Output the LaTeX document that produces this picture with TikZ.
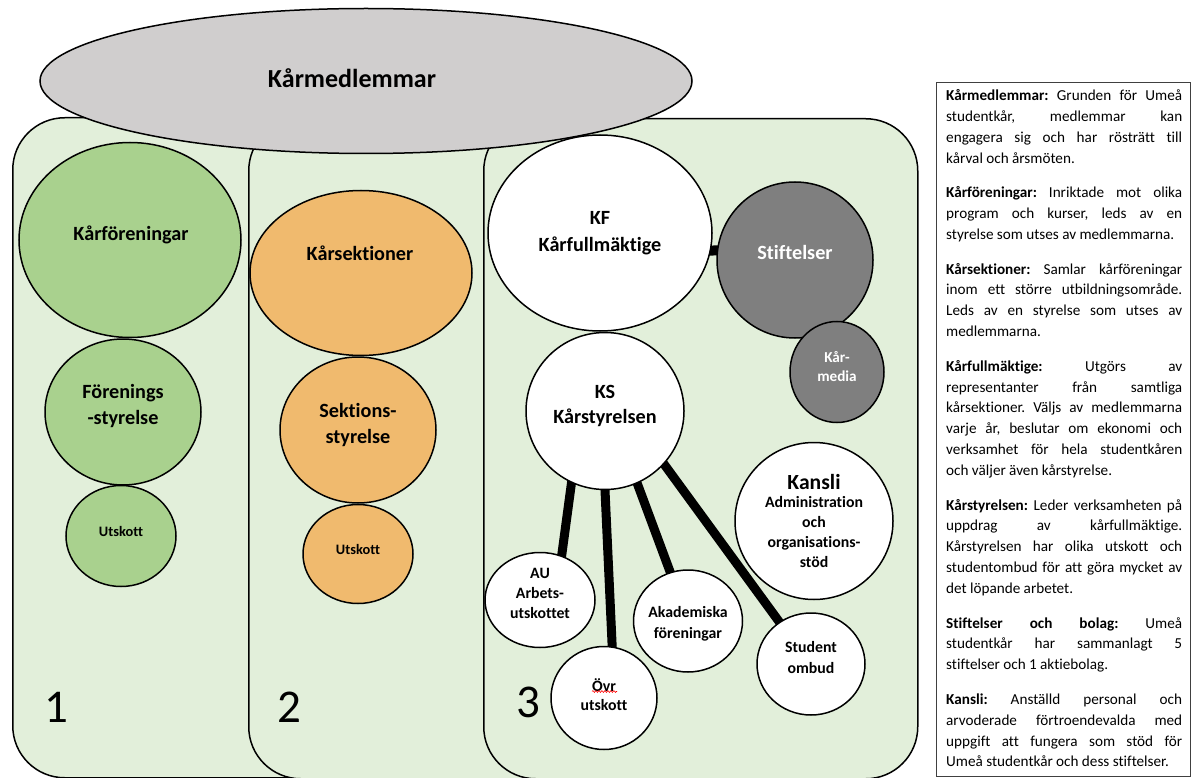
\documentclass[tikz,border=0pt]{standalone}
\usepackage{fontspec}
\setmainfont{Carlito}[Ligatures=NoCommon]
\usetikzlibrary{shapes.geometric,decorations.pathmorphing}
\definecolor{panelfill}{HTML}{E2EFDA}
\definecolor{memgray}{HTML}{D0CECE}
\definecolor{kgreen}{HTML}{A9D18E}
\definecolor{korange}{HTML}{F0BA6E}
\definecolor{dgray}{HTML}{7F7F7F}
\definecolor{boxline}{HTML}{404040}
\pgfdeclarelayer{panels}
\pgfdeclarelayer{links}
\pgfsetlayers{panels,links,main}
\begin{document}
\begin{tikzpicture}[x=1pt,y=-1pt,
  panel/.style={rectangle, draw=black, line width=1.5pt, fill=panelfill, rounded corners=52pt, anchor=north west, minimum width=434pt, minimum height=660pt, inner sep=0pt},
  bub/.style={ellipse, draw=black, line width=1.5pt, inner sep=0pt},
  lbl/.style={align=center, inner sep=0pt, font=\fontsize{20.2}{26}\selectfont\bfseries},
  lbls/.style={align=center, inner sep=0pt, font=\fontsize{15.8}{20}\selectfont\bfseries},
  num/.style={inner sep=0pt, font=\fontsize{47}{50}\selectfont},
  link/.style={line width=9pt, black, shorten <=-6pt, shorten >=-6pt}]
\useasboundingbox (0,0) rectangle (1192,778);

\begin{pgfonlayer}{panels}
\fill[white] (0,0) rectangle (1192,778);
\node[panel] (p1) at (12,117) {};
\node[panel] (p2) at (248,118) {};
\node[panel] (p3) at (483,118) {};
\end{pgfonlayer}

\node[num] (n1) at (56,707) {1};
\node[num] (n2) at (289,707) {2};
\node[num] (n3) at (528,702) {3};

% members ellipse
\node[bub, fill=memgray, minimum width=652pt, minimum height=145pt] (mem) at (366,81) {};
\node[inner sep=0pt, font=\fontsize{26}{30}\selectfont\bfseries] (memt) at (352,78) {Kårmedlemmar};

% column 1
\node[bub, fill=kgreen, minimum width=222pt, minimum height=195pt] (kforen) at (130,240) {};
\node[lbl] (kforent) at (131,235) {Kårföreningar};
\node[bub, fill=kgreen, minimum width=156pt, minimum height=146pt] (fstyr) at (123,412) {};
\node[lbl] (fstyrt) at (123,406) {Förenings\\-styrelse};
\node[bub, fill=kgreen, minimum width=110pt, minimum height=101pt] (u1) at (121,536) {};
\node[inner sep=0pt, font=\fontsize{14.4}{16}\selectfont\bfseries] (u1t) at (121,531) {Utskott};

% column 2
\node[bub, fill=korange, minimum width=222pt, minimum height=165pt] (ksek) at (361,273) {};
\node[lbl] (ksekt) at (360,253) {Kårsektioner};
\node[bub, fill=korange, minimum width=156pt, minimum height=146pt] (sstyr) at (358,430) {};
\node[lbl] (sstyrt) at (358,425) {Sektions-\\styrelse};
\node[bub, fill=korange, minimum width=110pt, minimum height=99pt] (u2) at (358,554) {};
\node[inner sep=0pt, font=\fontsize{14.4}{16}\selectfont\bfseries] (u2t) at (358,549) {Utskott};

% column 3
\node[bub, fill=white, minimum width=224pt, minimum height=196pt] (kf) at (600,233) {};
\node[lbl, font=\fontsize{20.2}{27}\selectfont\bfseries] (kft) at (600,233.5) {KF\\Kårfullmäktige};
\node[bub, fill=dgray, minimum width=156pt, minimum height=156pt] (st) at (795,260) {};
\node[lbl, text=white] (stt) at (795,252) {Stiftelser};
\node[bub, fill=dgray, minimum width=94pt, minimum height=101pt] (km) at (837,372) {};
\node[lbls, text=white, font=\fontsize{15.2}{19}\selectfont\bfseries] (kmt) at (837,367) {Kår-\\media};
\node[bub, fill=white, minimum width=158pt, minimum height=157pt] (ks) at (605,411) {};
\node[lbl, font=\fontsize{20.2}{25}\selectfont\bfseries] (kst) at (605,405.5) {KS\\Kårstyrelsen};
\node[bub, fill=white, minimum width=158pt, minimum height=157pt] (kan) at (814,521) {};
\node[inner sep=0pt, font=\fontsize{21.6}{22}\selectfont\bfseries] (kant) at (814,482) {Kansli};
\node[lbls] (kant2) at (814,532) {Administration\\och\\organisations-\\stöd};

\node[bub, fill=white, minimum width=110pt, minimum height=95pt] (au) at (540,600) {};
\node[lbls] (aut) at (540,593) {AU\\Arbets-\\utskottet};
\node[bub, fill=white, minimum width=106pt, minimum height=103pt] (ovr) at (604,698) {};
\node[lbls, font=\fontsize{15.8}{19}\selectfont\bfseries] (ovrt) at (604,694.5) {Övr\\utskott};
\draw[red, line width=0.6pt, decorate, decoration={snake, amplitude=0.9pt, segment length=3pt}] (592,691.5) -- (617,691.5);
\node[bub, fill=white, minimum width=109pt, minimum height=102pt] (ak) at (688,621) {};
\node[lbls, font=\fontsize{15.8}{21}\selectfont\bfseries] (akt) at (688,623.5) {Akademiska\\föreningar};
\node[bub, fill=white, minimum width=108pt, minimum height=102pt] (so) at (811,664) {};
\node[lbls, font=\fontsize{15.8}{21}\selectfont\bfseries] (sot) at (811,657.5) {Student\\ombud};

\begin{pgfonlayer}{links}
\draw[link, line width=10pt] (kf.-9) -- (st.173);
\draw[link] (ks.245) -- (au.64);
\draw[link] (ks.270) -- (ovr.81);
\draw[link] (ks.294) -- (ak.110);
\draw[link] (ks.318) -- (so.127);
\end{pgfonlayer}

% text box
\node[rectangle, draw=boxline, line width=1.2pt, anchor=north west, minimum width=254pt, minimum height=694pt, inner sep=0pt] (box) at (936,82) {};
\node[anchor=north west, inner sep=0pt] (boxt) at (946,89.5) {\begin{minipage}[t]{236pt}
\fontsize{15.2}{20.9}\selectfont
\setlength{\parskip}{13.5pt}\setlength{\parindent}{0pt}
\frenchspacing
\spaceskip=0.22em plus 0.5em minus 0.1em
\hyphenpenalty=10000 \exhyphenpenalty=10000
\textbf{Kårmedlemmar:} Grunden för Umeå\linebreak
studentkår, medlemmar kan\linebreak
engagera sig och har rösträtt till\linebreak
kårval och årsmöten.\par
\textbf{Kårföreningar:} Inriktade mot olika\linebreak
program och kurser, leds av en\linebreak
styrelse som utses av medlemmarna.\par
\textbf{Kårsektioner:} Samlar kårföreningar\linebreak
inom ett större utbildningsområde.\linebreak
Leds av en styrelse som utses av\linebreak
medlemmarna.\par
\textbf{Kårfullmäktige:} Utgörs av\linebreak
representanter från samtliga\linebreak
kårsektioner. Väljs av medlemmarna\linebreak
varje år, beslutar om ekonomi och\linebreak
verksamhet för hela studentkåren\linebreak
och väljer även kårstyrelse.\par
\textbf{Kårstyrelsen:} Leder verksamheten på\linebreak
uppdrag av kårfullmäktige.\linebreak
Kårstyrelsen har olika utskott och\linebreak
studentombud för att göra mycket av\linebreak
det löpande arbetet.\par
\textbf{Stiftelser och bolag:} Umeå\linebreak
studentkår har sammanlagt 5\linebreak
stiftelser och 1 aktiebolag.\par
\textbf{Kansli:} Anställd personal och\linebreak
arvoderade förtroendevalda med\linebreak
uppgift att fungera som stöd för\linebreak
Umeå studentkår och dess stiftelser.
\end{minipage}};
\end{tikzpicture}
\end{document}
